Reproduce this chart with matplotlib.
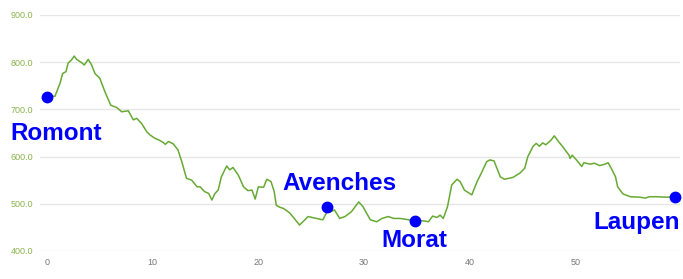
import matplotlib
matplotlib.use("Agg")
import matplotlib.pyplot as plt

# Elevation profile (km, m)
dist = [0.0, 0.76, 1.23, 1.48, 1.8, 2.0, 2.33, 2.58, 2.8, 3.28, 3.53, 3.9, 4.23, 4.54, 5.0,
        5.49, 6.03, 6.6, 7.07, 7.7, 8.17, 8.49, 8.96, 9.43, 9.74, 10.2, 10.6, 11.0, 11.2, 11.5,
        11.95, 12.4, 12.8, 13.2, 13.7, 14.2, 14.5, 14.9, 15.3, 15.6, 15.9, 16.2, 16.5, 17.0,
        17.3, 17.6, 18.1, 18.6, 19.0, 19.4, 19.7, 20.0, 20.5, 20.8, 21.2, 21.5, 21.7, 22.0,
        22.4, 23.0, 23.9, 24.4, 24.7, 25.5, 26.1, 26.5, 26.8, 27.2, 27.7, 28.2, 28.8, 29.5,
        29.9, 30.6, 31.2, 31.7, 32.3, 32.8, 33.4, 34.0, 34.8, 35.6, 36.1, 36.5, 36.9, 37.2,
        37.5, 37.9, 38.3, 38.8, 39.1, 39.5, 40.2, 40.7, 41.1, 41.6, 41.9, 42.3, 42.9, 43.3,
        44.1, 44.75, 45.2, 45.5, 46.0, 46.3, 46.6, 46.9, 47.2, 47.7, 48.0, 48.4, 48.8, 49.4,
        49.5, 49.7, 50.1, 50.6, 50.8, 51.4, 51.8, 52.3, 52.8, 53.1, 53.4, 53.8, 54.0, 54.5,
        55.2, 56.1, 56.6, 57.0, 57.7, 58.6, 59.4]
elev = [727, 728, 755, 776, 780, 798, 805, 813, 806, 799, 794, 806, 794, 776, 766,
        737, 709, 704, 695, 697, 678, 681, 670, 653, 646, 639, 635, 630, 626, 632,
        627, 614, 586, 554, 550, 536, 536, 526, 522, 508, 522, 529, 557, 580,
        572, 577, 561, 536, 528, 529, 510, 536, 535, 552, 547, 526, 497, 493,
        490, 480, 455, 466, 473, 469, 466, 483, 483, 487, 469, 473, 483, 504,
        494, 466, 462, 469, 473, 469, 469, 467, 464, 464, 462, 474, 471, 476,
        469, 494, 540, 552, 547, 529, 519, 547, 565, 589, 593, 591, 557, 552,
        556, 565, 575, 600, 622, 628, 622, 629, 625, 635, 644, 632, 621, 603,
        596, 603, 593, 579, 587, 584, 586, 581, 584, 587, 575, 557, 536, 521,
        515, 514, 512, 515, 515, 514, 515]

# Waypoints
place_names = ["Romont", "Avenches", "Morat", "Laupen"]
place_km = [0.0, 26.5, 34.8, 59.4]
place_elev = [727, 493, 464, 515]

x_ticks = [0, 10, 20, 30, 40, 50]
y_ticks = [400, 500, 600, 700, 800, 900]

fig = plt.figure(figsize=(6.83, 2.79), dpi=100)
ax = fig.add_axes([40/683, 28/279, 640/683, 236/279])
ax.set_xlim(-0.66, 59.9)
ax.set_ylim(400, 900)

ax.plot(dist, elev, color="#66aa33", lw=1.1, zorder=3)
ax.plot(place_km, place_elev, 'o', color="#0000ff", ms=7.5, zorder=4, clip_on=False)

for s in ax.spines.values():
    s.set_visible(False)
ax.set_yticks(y_ticks)
ax.set_yticklabels([f"{v:.1f}" for v in y_ticks], color="#8ab34d", fontsize=6.5,
                   family=["Liberation Sans", "DejaVu Sans"])
ax.set_xticks(x_ticks)
ax.set_xticklabels([str(v) for v in x_ticks], color="#777777", fontsize=6.5,
                   family=["Liberation Sans", "DejaVu Sans"])
ax.tick_params(length=0, pad=5)
ax.grid(axis='y', color="#e6e6e6", lw=1)
ax.set_axisbelow(True)

tk = dict(color="#0000ff", fontsize=17.5, fontweight="bold",
          family=["Liberation Sans", "DejaVu Sans"], va="center", clip_on=False)
ax.text(-3.5, 650, place_names[0], ha="left", **tk)
ax.text(22.3, 544, place_names[1], ha="left", **tk)
ax.text(31.6, 423, place_names[2], ha="left", **tk)
ax.text(59.9, 461, place_names[3], ha="right", **tk)

fig.savefig("out.png", dpi=100)
